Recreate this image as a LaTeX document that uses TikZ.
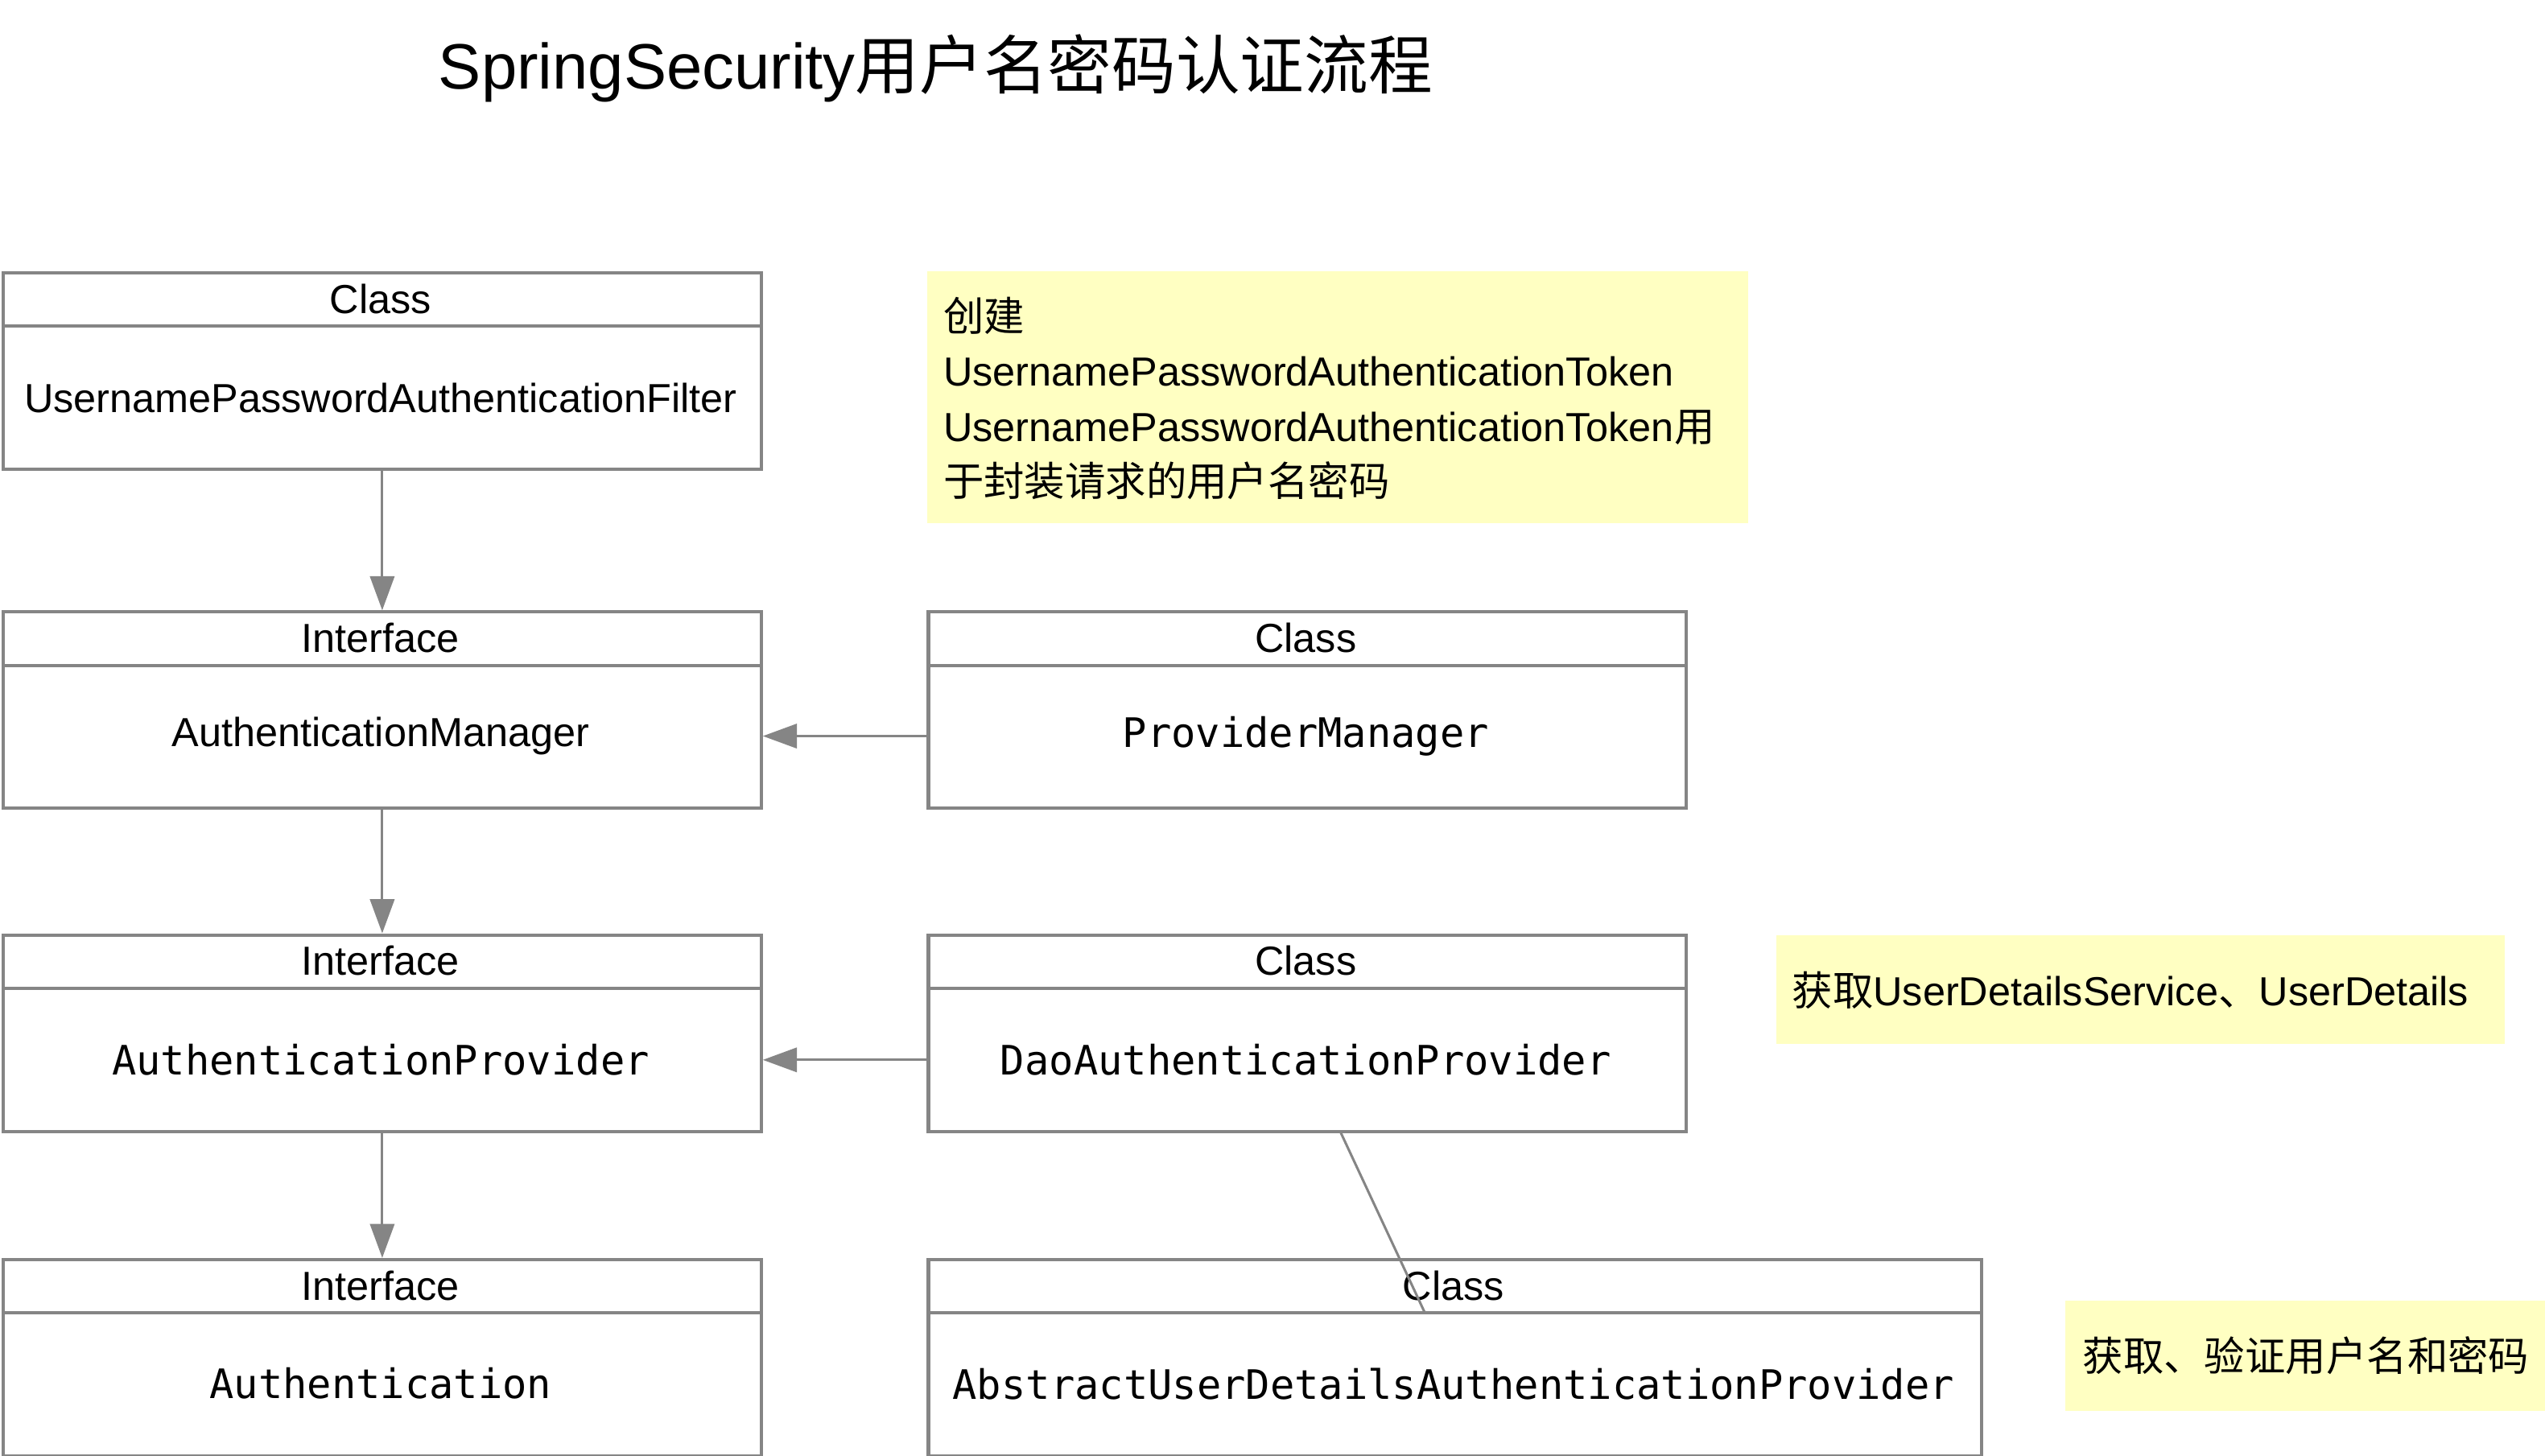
\documentclass[tikz,border=0pt]{standalone}
\usepackage{fontspec}
\setmainfont{Liberation Sans}
\newfontfamily\cjk{Noto Sans CJK SC}
\newfontfamily\monof{DejaVu Sans Mono}
\usetikzlibrary{arrows.meta,calc}
\definecolor{edgegray}{HTML}{858585}
\definecolor{noteyellow}{HTML}{FFFFC2}
\tikzset{
  classbox/.style={draw=edgegray, line width=2pt, rectangle, anchor=north west, minimum height=121pt, inner sep=0pt},
  hdr/.style={font=\fontsize{25}{30}\selectfont, inner sep=0pt},
  body/.style={font=\fontsize{25}{30}\selectfont, inner sep=0pt},
  monobody/.style={font=\monof\fontsize{25}{30}\selectfont, inner sep=0pt},
  divider/.style={draw=edgegray, line width=2pt},
  note/.style={fill=noteyellow, rectangle, anchor=north west, inner sep=0pt},
  notetext/.style={font=\fontsize{25}{34}\selectfont, align=left, anchor=west, inner sep=0pt},
  arr/.style={draw=edgegray, line width=1.5pt, -{Triangle[length=21pt,width=15pt]}},
  link/.style={draw=edgegray, line width=1.5pt},
}
\begin{document}
\begin{tikzpicture}[x=1pt,y=-1pt]
\useasboundingbox (0,0) rectangle (1568,896.6);
\fill[white] (0,0) rectangle (1568,896.6);

% title
\node[anchor=base west, inner sep=0pt, font=\fontsize{39.5}{45}\selectfont] (title) at (270,55) {SpringSecurity{\cjk 用户名密码认证流程}};

% left column boxes
\node[classbox, minimum width=467pt] (filter) at (1,167) {};
\draw[divider] (1,201) -- (468,201);
\node[hdr] (filterh) at (234.5,184) {Class};
\node[body] (filterb) at (234.5,245) {UsernamePasswordAuthenticationFilter};

\node[classbox, minimum width=467pt] (mgr) at (1,376) {};
\draw[divider] (1,410) -- (468,410);
\node[hdr] (mgrh) at (234.5,393) {Interface};
\node[body] (mgrb) at (234.5,453.5) {AuthenticationManager};

\node[classbox, minimum width=467pt] (prov) at (1,575) {};
\draw[divider] (1,609) -- (468,609);
\node[hdr] (provh) at (234.5,592) {Interface};
\node[monobody] (provb) at (234.5,653) {AuthenticationProvider};

\node[classbox, minimum width=467pt] (auth) at (1,775) {};
\draw[divider] (1,809) -- (468,809);
\node[hdr] (authh) at (234.5,792) {Interface};
\node[monobody] (authb) at (234.5,852.5) {Authentication};

% right column boxes
\node[classbox, minimum width=467pt] (pm) at (571,376) {};
\draw[divider] (571,410) -- (1038,410);
\node[hdr] (pmh) at (804.5,393) {Class};
\node[monobody] (pmb) at (804.5,453.5) {ProviderManager};

\node[classbox, minimum width=467pt] (dao) at (571,575) {};
\draw[divider] (571,609) -- (1038,609);
\node[hdr] (daoh) at (804.5,592) {Class};
\node[monobody] (daob) at (804.5,653) {DaoAuthenticationProvider};

\node[classbox, minimum width=649pt] (abs) at (571,775) {};
\draw[divider] (571,809) -- (1220,809);
\node[hdr] (absh) at (895.5,792) {Class};
\node[monobody] (absb) at (895.5,852.5) {AbstractUserDetailsAuthenticationProvider};

% notes
\node[note, minimum width=506pt, minimum height=155pt] (note1) at (571,167) {};
\node[notetext] (note1t) at (581,245.5) {{\cjk 创建}\\UsernamePasswordAuthenticationToken\\UsernamePasswordAuthenticationToken{\cjk 用}\\{\cjk 于封装请求的用户名密码}};

\node[note, minimum width=449pt, minimum height=67pt] (note2) at (1094,576) {};
\node[notetext] (note2t) at (1104,610) {{\cjk 获取}UserDetailsService{\cjk 、}UserDetails};

\node[note, minimum width=297pt, minimum height=68pt] (note3) at (1272,801) {};
\node[notetext] (note3t) at (1283,835) {{\cjk 获取、验证用户名和密码}};

% connectors
\draw[arr] (filter.south) -- (mgr.north);
\draw[arr] (mgr.south) -- (prov.north);
\draw[arr] (prov.south) -- (auth.north);
\draw[arr] (pmb -| pm.west) -- (mgrb -| mgr.east);
\draw[arr] (daob -| dao.west) -- (provb -| prov.east);
\coordinate (daoout) at ($(dao.south west)!0.544!(dao.south east)$);
\coordinate (absin) at ($(abs.north west)!0.4715!(abs.north east)+(0,34)$);
\draw[link] (daoout) -- (absin);
\end{tikzpicture}
\end{document}
